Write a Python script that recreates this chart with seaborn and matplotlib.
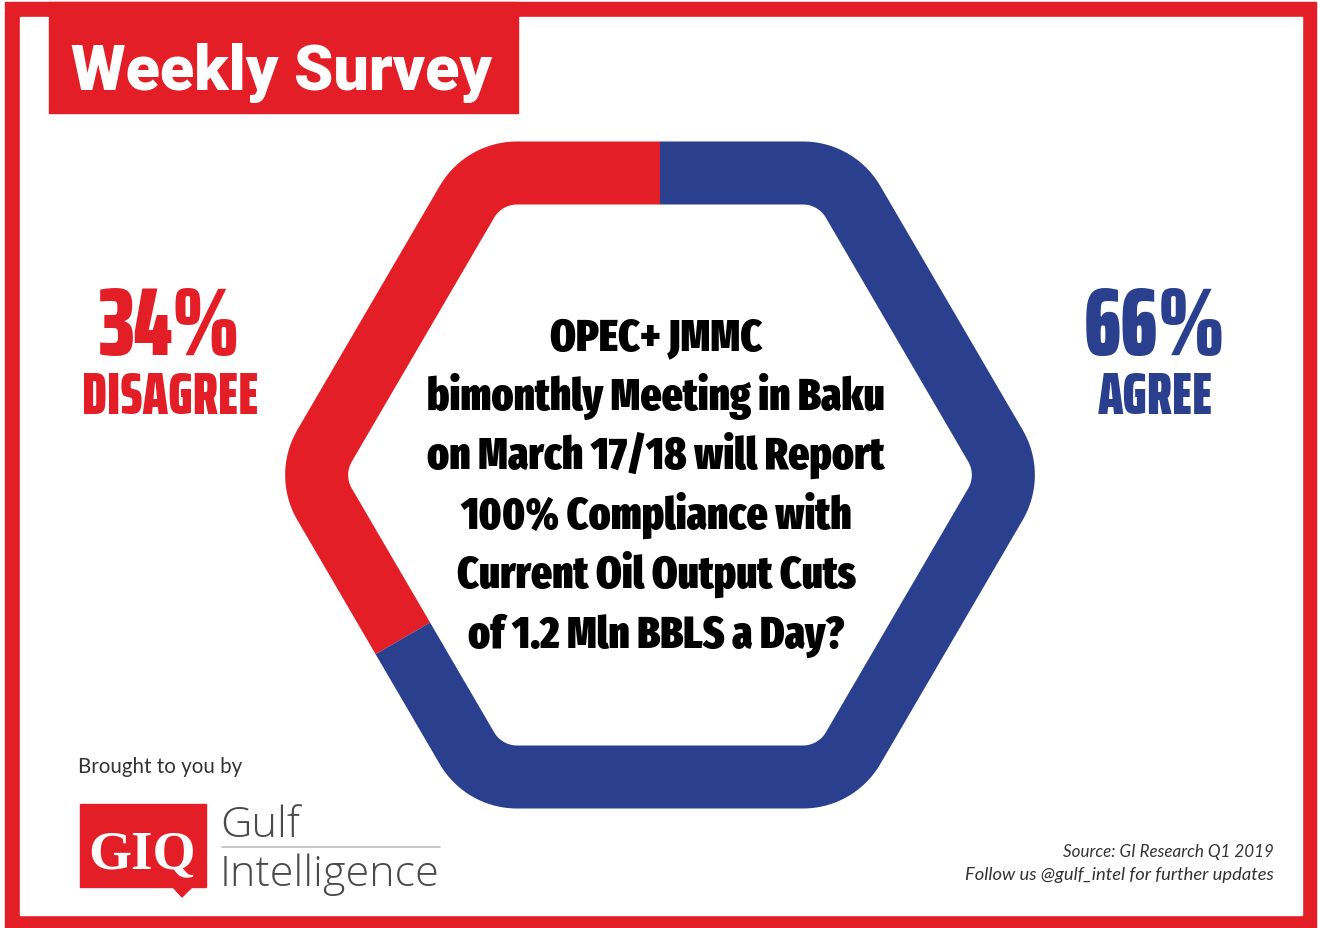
import numpy as np
import matplotlib
matplotlib.use("Agg")
import matplotlib.pyplot as plt
from matplotlib.patches import Rectangle, Polygon
import seaborn as sns

# ---------------- data ----------------
title = "Weekly Survey"
categories = ["DISAGREE", "AGREE"]
shares = [34, 66]
question_lines = [
    "OPEC+ JMMC",
    "bimonthly Meeting in Baku",
    "on March 17/18 will Report",
    "100% Compliance with",
    "Current Oil Output Cuts",
    "of 1.2 Mln BBLS a Day?",
]
sponsor_caption = "Brought to you by"
logo_mark = "GIQ"
logo_words = ["Gulf", "Intelligence"]
source_lines = ["Source: GI Research Q1 2019", "Follow us @gulf_intel for further updates"]

# ---------------- style ----------------
RED = "#E31E26"
BLUE = "#2A3F8E"
cat_colors = [RED, BLUE]
COND = ["Fira Sans Extra Condensed", "Barlow Condensed", "DejaVu Sans"]
XCOND = ["Saira ExtraCondensed", "Fira Sans Extra Condensed", "DejaVu Sans"]
HEAVY = ["Roboto", "DejaVu Sans"]
BODY = ["Lato", "DejaVu Sans"]
LIGHT = ["Open Sans", "DejaVu Sans"]

sns.set_theme(style="white")
plt.rcParams["font.family"] = ["Lato", "DejaVu Sans"]

W, H = 1318, 929
fig = plt.figure(figsize=(W / 100, H / 100), dpi=100)
fig.patch.set_facecolor("white")
ax = fig.add_axes([0, 0, 1, 1])
ax.axis("off")

# frame and banner
ax.add_patch(Rectangle((5, 3), 1311, 926, color=RED, zorder=0))
ax.add_patch(Rectangle((20, 18), 1282, 898, color="white", zorder=0.5))
ax.add_patch(Rectangle((49, 3), 469, 111, color=RED, zorder=1))

# ---------------- hexagonal ring (share split along its perimeter) ----------------
cx, cy, hx, hy, rc = 660.0, 476.0, 352.5, 302.0, 58.0
start = np.array([cx, cy - hy])
verts = [np.array(v) for v in [(cx - hx / 2, cy - hy), (cx - hx, cy), (cx - hx / 2, cy + hy),
                               (cx + hx / 2, cy + hy), (cx + hx, cy), (cx + hx / 2, cy - hy)]]
pts = [start]
n = len(verts)
for i, V in enumerate(verts):
    P = verts[i - 1] if i > 0 else start
    N = verts[(i + 1) % n] if i < n - 1 else start
    u1 = (P - V) / np.linalg.norm(P - V)
    u2 = (N - V) / np.linalg.norm(N - V)
    half = np.arccos(np.clip(np.dot(u1, u2), -1, 1)) / 2
    d = rc / np.tan(half)
    A, B = V + u1 * d, V + u2 * d
    bis = (u1 + u2) / np.linalg.norm(u1 + u2)
    C = V + bis * rc / np.sin(half)
    a0 = np.arctan2(*(A - C)[::-1])
    a1 = np.arctan2(*(B - C)[::-1])
    da = (a1 - a0 + np.pi) % (2 * np.pi) - np.pi
    for t in np.linspace(0, 1, 25):
        a = a0 + da * t
        pts.append(C + rc * np.array([np.cos(a), np.sin(a)]))
pts.append(start)
pts = np.array(pts)
seglen = np.linalg.norm(np.diff(pts, axis=0), axis=1)
cum = np.concatenate([[0], np.cumsum(seglen)])
L = cum[-1]


def along(s):
    return np.array([np.interp(s, cum, pts[:, 0]), np.interp(s, cum, pts[:, 1])])


def portion(s0, s1):
    inner = pts[(cum > s0) & (cum < s1)]
    return np.vstack([along(s0), inner, along(s1)])


ring_lw = 63 * 72 / 100
fr = np.array(shares, dtype=float) / np.sum(shares)
bounds = np.concatenate([[0], np.cumsum(fr)]) * L
for k in range(len(shares)):
    seg = portion(bounds[k], bounds[k + 1])
    sns.lineplot(x=seg[:, 0], y=seg[:, 1], sort=False, estimator=None, errorbar=None,
                 color=cat_colors[k], linewidth=ring_lw, solid_capstyle="butt",
                 solid_joinstyle="round", ax=ax, legend=False, zorder=2)

ax.set_xlim(0, W)
ax.set_ylim(H, 0)
ax.axis("off")

# ---------------- texts ----------------
renderer = fig.canvas.get_renderer()


def fit(t, width):
    bb = t.get_window_extent(renderer=renderer)
    t.set_fontsize(t.get_fontsize() * width / bb.width)
    return t


t = ax.text(71, 90, title, color="white", family=HEAVY, weight=900, fontsize=40,
            ha="left", va="baseline", zorder=3)
fit(t, 420)

# percentages and labels
pct_x = [170, 1155]
pct_w = [142, 142]
lab_w = [176, 115]
for k in range(len(shares)):
    t = ax.text(pct_x[k], 355, f"{shares[k]}%", color=cat_colors[k], family=XCOND, weight=900,
                fontsize=60, ha="center", va="baseline", zorder=3)
    fit(t, pct_w[k])
    t = ax.text(pct_x[k], 414, categories[k], color=cat_colors[k], family=XCOND, weight=900,
                fontsize=30, ha="center", va="baseline", zorder=3)
    fit(t, lab_w[k])

# question text
qtexts = []
for i, line in enumerate(question_lines):
    qtexts.append(ax.text(656, 350 + i * 59.5, line, color="black", family=COND, weight=900,
                          fontsize=30, ha="center", va="baseline", zorder=3))
maxw = max(q.get_window_extent(renderer=renderer).width for q in qtexts)
for q in qtexts:
    q.set_fontsize(30 * 457 / maxw)

# sponsor block
t = ax.text(78, 773, sponsor_caption, color="#333333", family=BODY, fontsize=12,
            ha="left", va="baseline", zorder=3)
fit(t, 164)
ax.add_patch(Rectangle((80, 805), 126, 83, color=RED, zorder=2))
ax.add_patch(Polygon([(172, 887), (193, 887), (182, 898)], closed=True, color=RED, zorder=2))
t = ax.text(142, 868, logo_mark, color="white", family=["Liberation Serif", "DejaVu Serif"],
            weight="bold", fontsize=30, ha="center", va="baseline", zorder=3)
fit(t, 107)
t = ax.text(220, 837, logo_words[0], color="#4a4a4a", family=LIGHT, weight=300, fontsize=28,
            ha="left", va="baseline", zorder=3)
fit(t, 80)
t = ax.text(220, 886, logo_words[1], color="#4a4a4a", family=LIGHT, weight=300, fontsize=28,
            ha="left", va="baseline", zorder=3)
fit(t, 220)
ax.plot([222, 440], [848, 848], color="#bbbbbb", lw=1.2, zorder=3)

# source notes
t = ax.text(1274, 857, source_lines[0], color="#333333", family=BODY, style="italic",
            fontsize=11, ha="right", va="baseline", zorder=3)
fit(t, 210)
t = ax.text(1274, 880, source_lines[1], color="#333333", family=BODY, style="italic",
            fontsize=11, ha="right", va="baseline", zorder=3)
fit(t, 309)

fig.savefig("out.png", dpi=100, facecolor="white")
